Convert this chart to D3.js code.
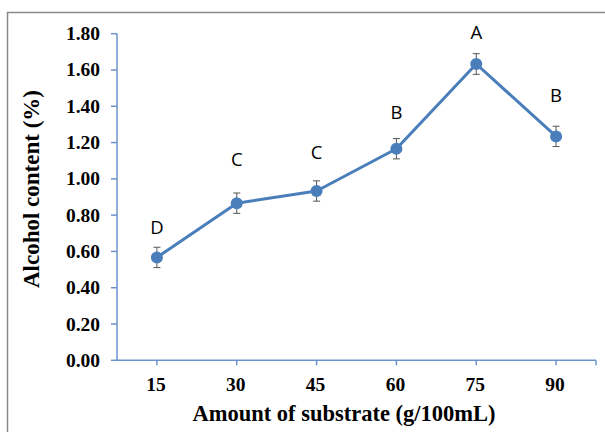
<!DOCTYPE html>
<html>
<head>
<meta charset="utf-8">
<style>
  body { margin: 0; background: #fff; }
  svg { display: block; }
  .tick-label { font-family: "Liberation Serif", "Times New Roman", serif; font-weight: bold; font-size: 19.5px; fill: #000; }
  .axis-title { font-family: "Liberation Serif", "Times New Roman", serif; font-weight: bold; font-size: 22.5px; fill: #000; }
  .letter { font-family: "Open Sans", "Liberation Sans", sans-serif; font-size: 18.5px; fill: #000; }
</style>
</head>
<body>
<svg width="605" height="432"></svg>
<script src="https://cdnjs.cloudflare.com/ajax/libs/d3/7.8.5/d3.min.js"></script>
<script>
// substrate amounts (g/100mL)
const categories = ["15", "30", "45", "60", "75", "90"];
// alcohol content (%)
const values = [0.567, 0.866, 0.933, 1.166, 1.633, 1.234];
const errors = [0.056, 0.056, 0.056, 0.056, 0.057, 0.056];
// significance letters and the height (in %) where each sits
const letters = ["D", "C", "C", "B", "A", "B"];
const letterY = [0.73, 1.105, 1.143, 1.365, 1.805, 1.46];
const yTicks = [0, 0.2, 0.4, 0.6, 0.8, 1.0, 1.2, 1.4, 1.6, 1.8];

const svg = d3.select("svg");
const blue = "#4a7ebb";
const axisBlue = "#6a93cc";

// outer frame
svg.append("rect")
  .attr("x", 7.5).attr("y", 12.5)
  .attr("width", 620).attr("height", 440)
  .attr("fill", "none")
  .attr("stroke", "#8a8a8a")
  .attr("stroke-width", 1.5);

const plotLeft = 117, plotRight = 596, plotTop = 33.7, plotBottom = 360.3;

const x = d3.scaleBand().domain(categories).range([plotLeft, plotRight]);
const y = d3.scaleLinear().domain([0, 1.8]).range([plotBottom, plotTop]);
const cx = d => x(d) + x.bandwidth() / 2;

// y axis
const gy = svg.append("g");
gy.append("line")
  .attr("x1", plotLeft).attr("x2", plotLeft)
  .attr("y1", y(0)).attr("y2", y(1.8))
  .attr("stroke", axisBlue).attr("stroke-width", 1.5);
gy.selectAll("line.tk").data(yTicks).join("line")
  .attr("class", "tk")
  .attr("x1", plotLeft - 6).attr("x2", plotLeft)
  .attr("y1", d => y(d)).attr("y2", d => y(d))
  .attr("stroke", axisBlue).attr("stroke-width", 1.5);
gy.selectAll("text").data(yTicks).join("text")
  .attr("class", "tick-label")
  .attr("x", 100)
  .attr("y", d => y(d) + 6.5)
  .attr("text-anchor", "end")
  .text(d => d.toFixed(2));

// x axis
const gx = svg.append("g");
gx.append("line")
  .attr("x1", plotLeft).attr("x2", plotRight)
  .attr("y1", plotBottom).attr("y2", plotBottom)
  .attr("stroke", axisBlue).attr("stroke-width", 1.5);
gx.selectAll("line.tk").data(categories).join("line")
  .attr("class", "tk")
  .attr("x1", d => cx(d)).attr("x2", d => cx(d))
  .attr("y1", plotBottom).attr("y2", plotBottom + 5)
  .attr("stroke", axisBlue).attr("stroke-width", 1.5);
gx.append("line")
  .attr("x1", plotRight).attr("x2", plotRight)
  .attr("y1", plotBottom).attr("y2", plotBottom + 5)
  .attr("stroke", axisBlue).attr("stroke-width", 1.5);
gx.selectAll("text").data(categories).join("text")
  .attr("class", "tick-label")
  .attr("x", d => cx(d) - 1)
  .attr("y", 391)
  .attr("text-anchor", "middle")
  .text(d => d);

// axis titles
svg.append("text")
  .attr("class", "axis-title")
  .attr("x", 344).attr("y", 421)
  .attr("text-anchor", "middle")
  .text("Amount of substrate (g/100mL)");
svg.append("text")
  .attr("class", "axis-title")
  .attr("transform", "translate(39,189) rotate(-90)")
  .attr("text-anchor", "middle")
  .style("font-size", "23px")
  .text("Alcohol content (%)");

const pts = categories.map((c, i) => ({ c, v: values[i], e: errors[i], l: letters[i], ly: letterY[i] }));

// line
svg.append("path")
  .datum(pts)
  .attr("fill", "none")
  .attr("stroke", blue)
  .attr("stroke-width", 3)
  .attr("stroke-linejoin", "round")
  .attr("d", d3.line().x(d => cx(d.c)).y(d => y(d.v)));

// error bars
const eb = svg.append("g").attr("stroke", "#555").attr("stroke-width", 1);
pts.forEach(d => {
  const px = cx(d.c);
  eb.append("line").attr("x1", px).attr("x2", px).attr("y1", y(d.v - d.e)).attr("y2", y(d.v + d.e));
  eb.append("line").attr("x1", px - 3.5).attr("x2", px + 3.5).attr("y1", y(d.v + d.e)).attr("y2", y(d.v + d.e));
  eb.append("line").attr("x1", px - 3.5).attr("x2", px + 3.5).attr("y1", y(d.v - d.e)).attr("y2", y(d.v - d.e));
});

// markers
svg.selectAll("circle.pt").data(pts).join("circle")
  .attr("class", "pt")
  .attr("cx", d => cx(d.c))
  .attr("cy", d => y(d.v))
  .attr("r", 6)
  .attr("fill", blue);

// letters
svg.selectAll("text.letter").data(pts).join("text")
  .attr("class", "letter")
  .attr("x", d => cx(d.c))
  .attr("y", d => y(d.ly) + 6.5)
  .attr("text-anchor", "middle")
  .text(d => d.l);
</script>
</body>
</html>
